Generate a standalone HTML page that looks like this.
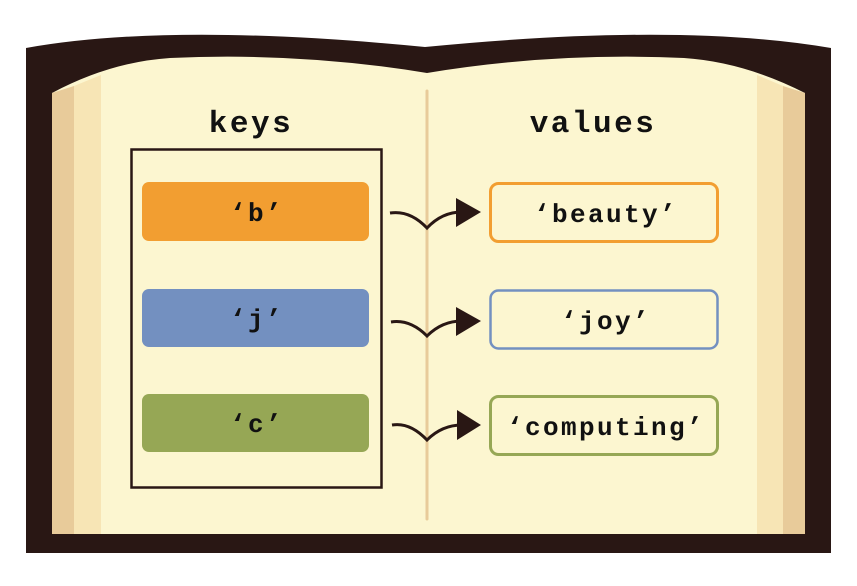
<!DOCTYPE html>
<html><head><meta charset="utf-8"><style>
html,body{margin:0;padding:0;background:#fff;}
svg{display:block}
text{font-family:"Liberation Mono",monospace;font-weight:bold;fill:#111;}
</style></head><body>
<svg width="857" height="586" viewBox="0 0 857 586" xmlns="http://www.w3.org/2000/svg">
<path d="M26,48 Q170,22 425,47 Q680,22 831,48 L831,553 L26,553 Z" fill="#291714"/>
<path d="M52,93 Q110,62 170,58 Q300,52 427,73 Q554,52 684,58 Q744,62 805,93 L805,534 L52,534 Z" fill="#fcf6d0"/>
<path d="M52,93 L74,86 L74,534 L52,534 Z" fill="#e8cb9a"/>
<path d="M74,86 L101,75 L101,534 L74,534 Z" fill="#f7e5b5"/>
<path d="M805,93 L783,86 L783,534 L805,534 Z" fill="#e8cb9a"/>
<path d="M783,86 L757,75 L757,534 L783,534 Z" fill="#f7e5b5"/>
<line x1="427" y1="91" x2="427" y2="519" stroke="#e8cb9a" stroke-width="3" stroke-linecap="round"/>
<text x="251" y="132" font-size="31" letter-spacing="2.5" text-anchor="middle">keys</text>
<text x="593" y="132" font-size="31" letter-spacing="2.5" text-anchor="middle">values</text>
<rect x="131.5" y="149.5" width="250" height="338" fill="none" stroke="#291714" stroke-width="2.5"/>
<rect x="142" y="182" width="227" height="59" rx="7" fill="#f29e31"/>
<rect x="142" y="289" width="227" height="58" rx="7" fill="#7390c0"/>
<rect x="142" y="394" width="227" height="58" rx="7" fill="#96a755"/>
<g font-size="26" letter-spacing="2.4" text-anchor="middle">
<text x="257" y="221">‘b’</text>
<text x="257" y="327">‘j’</text>
<text x="257" y="432">‘c’</text>
</g>
<rect x="490.5" y="183.5" width="227" height="58" rx="8" fill="#fcf6d0" stroke="#f29e31" stroke-width="3"/>
<rect x="490.5" y="290.5" width="227" height="58" rx="8" fill="#fcf6d0" stroke="#7390c0" stroke-width="2.5"/>
<rect x="490.5" y="396.5" width="227" height="58" rx="8" fill="#fcf6d0" stroke="#96a755" stroke-width="3"/>
<g font-size="26" letter-spacing="2.4" text-anchor="middle">
<text x="606" y="222">‘beauty’</text>
<text x="606" y="329">‘joy’</text>
<text x="606" y="435">‘computing’</text>
</g>
<g fill="none" stroke="#291714" stroke-width="3">
<path d="M390,213 Q410,210 427,228 Q442,212 462,212"/>
<path d="M391,322 Q410,319 427,336 Q442,321 462,321"/>
<path d="M392,425 Q410,422 427,440 Q442,425 462,425"/>
</g>
<g fill="#291714">
<path d="M456,198 L481,212 L456,227 Z"/>
<path d="M456,307 L481,321 L456,336 Z"/>
<path d="M457,410 L481,425 L457,440 Z"/>
</g>
</svg>
</body></html>
